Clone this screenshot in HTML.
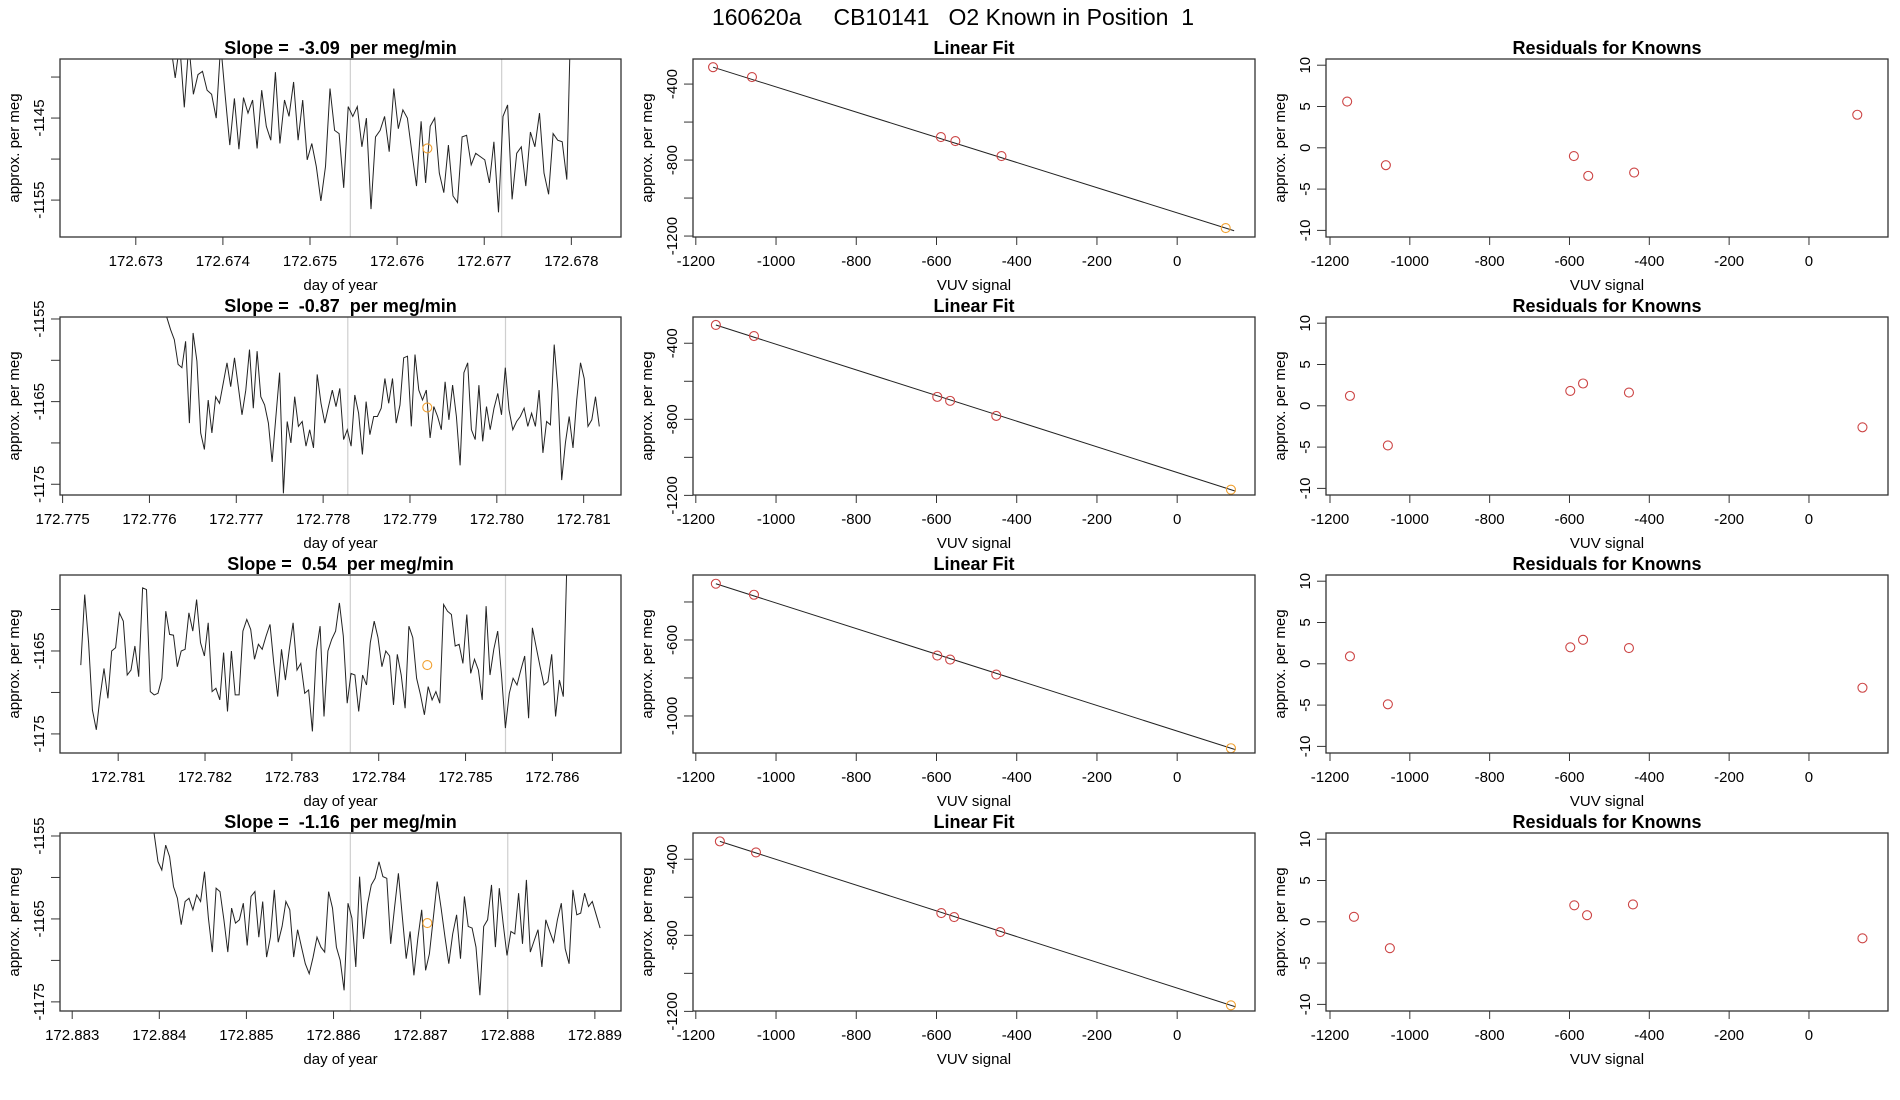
<!DOCTYPE html>
<html><head><meta charset="utf-8">
<style>
html,body{margin:0;padding:0;background:#fff;}
svg{display:block;font-family:"Liberation Sans",Arial,sans-serif;}
svg text{white-space:pre;}
</style></head>
<body>
<svg id="chart" width="1900" height="1100" viewBox="0 0 1900 1100" xmlns="http://www.w3.org/2000/svg">
<rect x="0" y="0" width="1900" height="1100" fill="#fff"/>
<text x="953" y="25" font-size="23" text-anchor="middle" xml:space="preserve">160620a     CB10141   O2 Known in Position  1</text>
</svg>
<script>
// ---------- data ----------
const slopes = ["-3.09", "-0.87", "0.54", "-1.16"];
const tsStart = [172.67340, 172.77620, 172.78057, 172.88394];
const tsEnd = [172.67800, 172.78118, 172.78617, 172.88906];
const tsXMin = [172.67213, 172.77497, 172.78033, 172.88286];
const tsXMax = [172.67857, 172.78143, 172.78679, 172.88930];
const tsYMin = [-1159.5, -1176.3, -1177.3, -1176.1];
const tsYMax = [-1137.8, -1154.76, -1155.84, -1154.64];
const tsXTicks = [
  ["172.673","172.674","172.675","172.676","172.677","172.678"],
  ["172.775","172.776","172.777","172.778","172.779","172.780","172.781"],
  ["172.781","172.782","172.783","172.784","172.785","172.786"],
  ["172.883","172.884","172.885","172.886","172.887","172.888","172.889"]
];
const tsYTicks = [[-1140,-1145,-1150,-1155],[-1155,-1160,-1165,-1170,-1175],[-1160,-1165,-1170,-1175],[-1155,-1160,-1165,-1170,-1175]];
const tsYLabels = [[-1145,-1155],[-1155,-1165,-1175],[-1165,-1175],[-1155,-1165,-1175]];
const vLines = [[172.675463,172.6772],[172.778284,172.78010],[172.783673,172.78546],[172.886193,172.888]];
const knownX = [172.676347, 172.779199, 172.784559, 172.887077];
const knownY = [-1148.7, -1165.7, -1166.7, -1165.5];
const ts1 = [-1136,-1140.1,-1136,-1143.7,-1136,-1142.1,-1139.7,-1139.3,-1141.6,-1142.1,-1145.0,-1136,-1142.4,-1148.3,-1142.6,-1148.8,-1142.5,-1144.4,-1142.8,-1148.7,-1141.6,-1146.0,-1147.7,-1139.4,-1148.1,-1142.8,-1144.8,-1140.6,-1147.7,-1142.8,-1150.1,-1148.1,-1150.9,-1155.1,-1150.9,-1141.4,-1146.5,-1146.9,-1153.5,-1143.6,-1144.8,-1143.6,-1148.5,-1145.0,-1156.1,-1147.3,-1146.5,-1144.8,-1149.1,-1141.4,-1146.3,-1144.0,-1145.0,-1149.3,-1153.3,-1145.4,-1152.9,-1146.0,-1145.0,-1151.7,-1154.1,-1148.3,-1154.5,-1155.3,-1147.3,-1147.1,-1150.7,-1149.3,-1149.7,-1150.1,-1152.9,-1147.9,-1156.5,-1144.8,-1143.4,-1154.9,-1149.3,-1148.5,-1153.3,-1146.7,-1148.5,-1144.4,-1151.7,-1154.3,-1146.9,-1147.7,-1147.9,-1152.5,-1130];
const ts2 = [-1154.8,-1156.3,-1157.5,-1160.5,-1160.9,-1157.7,-1167.6,-1156.7,-1160.1,-1168.8,-1170.8,-1164.8,-1168.8,-1164.4,-1165.2,-1162.8,-1160.3,-1163.2,-1159.7,-1163.2,-1166.6,-1163.6,-1158.7,-1165.8,-1158.9,-1164.4,-1165.4,-1167.6,-1172.3,-1166.8,-1161.5,-1176.1,-1167.4,-1170.0,-1164.4,-1168.0,-1167.4,-1170.4,-1168.4,-1170.6,-1161.7,-1165.2,-1167.6,-1165.6,-1163.6,-1165.6,-1163.4,-1169.6,-1168.4,-1170.4,-1164.2,-1166.4,-1171.4,-1165.0,-1169.0,-1166.8,-1166.8,-1165.8,-1162.2,-1165.2,-1162.2,-1167.6,-1165.4,-1159.7,-1159.5,-1168.0,-1159.3,-1163.6,-1164.8,-1163.6,-1169.4,-1165.6,-1166.8,-1168.4,-1162.6,-1167.2,-1163.0,-1166.8,-1172.7,-1161.5,-1160.3,-1168.4,-1169.6,-1163.0,-1169.8,-1165.6,-1168.4,-1165.8,-1164.0,-1166.6,-1160.9,-1166.0,-1168.4,-1167.4,-1166.8,-1165.8,-1168.0,-1166.4,-1168.0,-1163.6,-1171.2,-1167.4,-1167.8,-1158.1,-1163.6,-1174.5,-1170.0,-1166.8,-1170.6,-1164.8,-1160.3,-1162.2,-1168.0,-1167.2,-1164.4,-1168.0];
const ts3 = [-1166.7,-1158.2,-1164.0,-1172.1,-1174.5,-1170.5,-1167.1,-1170.7,-1165.0,-1164.6,-1160.4,-1161.4,-1167.9,-1167.3,-1164.4,-1168.1,-1157.4,-1157.6,-1169.9,-1170.3,-1170.1,-1168.3,-1160.2,-1163.0,-1163.1,-1166.9,-1165.0,-1164.8,-1160.4,-1162.6,-1158.8,-1164.0,-1165.6,-1161.6,-1169.9,-1169.5,-1170.9,-1165.2,-1172.3,-1165.0,-1170.3,-1170.3,-1162.6,-1161.2,-1162.4,-1166.0,-1164.2,-1164.8,-1163.2,-1161.8,-1166.5,-1170.5,-1164.8,-1168.5,-1164.8,-1161.6,-1167.3,-1166.5,-1170.1,-1169.7,-1174.7,-1165.0,-1162.0,-1172.9,-1165.0,-1163.6,-1162.6,-1159.2,-1163.2,-1171.3,-1167.7,-1167.9,-1172.3,-1167.9,-1169.1,-1164.0,-1161.4,-1163.4,-1166.9,-1165.0,-1165.6,-1171.5,-1165.4,-1167.9,-1171.9,-1162.0,-1163.4,-1168.3,-1170.3,-1172.7,-1169.3,-1170.9,-1169.9,-1171.3,-1159.4,-1160.2,-1160.6,-1164.4,-1164.2,-1166.5,-1160.6,-1167.7,-1166.0,-1167.3,-1170.9,-1159.6,-1167.9,-1164.8,-1162.6,-1167.9,-1174.3,-1170.1,-1168.3,-1169.1,-1167.3,-1165.6,-1173.1,-1162.2,-1164.6,-1166.9,-1169.1,-1168.7,-1165.4,-1172.9,-1168.5,-1170.5,-1153];
const ts4 = [-1154.7,-1158.1,-1159.1,-1156.1,-1157.5,-1161.1,-1162.5,-1165.7,-1162.9,-1162.5,-1163.9,-1162.1,-1162.9,-1159.3,-1164.9,-1169.0,-1161.3,-1161.7,-1165.1,-1169.0,-1163.7,-1165.5,-1165.1,-1163.1,-1168.2,-1162.3,-1161.7,-1167.2,-1162.9,-1169.6,-1167.2,-1161.5,-1167.8,-1165.9,-1162.9,-1163.9,-1169.6,-1166.3,-1168.4,-1170.4,-1171.6,-1169.6,-1167.2,-1168.4,-1169.0,-1161.7,-1163.7,-1168.4,-1170.0,-1173.6,-1163.1,-1164.9,-1170.8,-1159.9,-1167.4,-1163.3,-1160.9,-1160.1,-1158.1,-1159.9,-1160.1,-1168.0,-1163.7,-1159.5,-1164.7,-1169.8,-1166.5,-1171.8,-1167.4,-1163.9,-1171.2,-1169.2,-1164.9,-1160.5,-1163.7,-1167.2,-1170.4,-1166.8,-1164.5,-1169.8,-1162.3,-1165.9,-1166.1,-1168.4,-1174.2,-1165.9,-1165.1,-1160.9,-1168.4,-1161.3,-1165.5,-1169.4,-1166.5,-1166.8,-1161.9,-1168.0,-1160.3,-1169.0,-1167.6,-1166.3,-1170.8,-1165.1,-1166.5,-1167.8,-1165.1,-1163.1,-1168.6,-1170.4,-1161.5,-1164.5,-1164.3,-1161.9,-1163.5,-1162.9,-1164.5,-1166.1];
const tsSeries = [ts1, ts2, ts3, ts4];

// Linear fit panels
const fitXTickLabels = ["-1200","-1000","-800","-600","-400","-200","0"];
const fitYMin = [-1205, -1198, -1195, -1198];
const fitYMax = [-268, -262, -258, -262];
const fitYTicks = [[-400,-600,-800,-1000,-1200],[-400,-600,-800,-1000,-1200],[-400,-600,-800,-1000],[-400,-600,-800,-1000,-1200]];
const fitYLabels = [[-400,-800,-1200],[-400,-800,-1200],[-600,-1000],[-400,-800,-1200]];
const stdX1 = [-1157, -1060, -589, -553, -438];
const stdX2 = [-1150, -1055, -598, -566, -451];
const stdX3 = [-1150, -1055, -598, -566, -451];
const stdX4 = [-1140, -1050, -588, -556, -441];
const stdY1 = [-311, -363, -679, -700, -779];
const stdY2 = [-304, -362, -682, -703, -782];
const stdY3 = [-304, -362, -682, -703, -782];
const stdY4 = [-306, -364, -683, -704, -783];
const stdXs = [stdX1, stdX2, stdX3, stdX4];
const stdYs = [stdY1, stdY2, stdY3, stdY4];
const unkX = [121, 134, 134, 134];
const unkY = [-1158, -1170, -1170, -1168];
const fitLineEnd = [142, 146, 146, 146];

// Residuals
const res1 = [5.6, -2.1, -1.0, -3.4, -3.0];
const res2 = [1.2, -4.8, 1.8, 2.7, 1.6];
const res3 = [0.9, -4.9, 2.0, 2.9, 1.9];
const res4 = [0.6, -3.2, 2.0, 0.8, 2.1];
const resAll = [res1, res2, res3, res4];
const resUnk = [4.0, -2.6, -2.9, -2.0];
const resTicks = [-10, -5, 0, 5, 10];

// ---------- drawing ----------
const NS = "http://www.w3.org/2000/svg";
const svg = document.getElementById("chart");
function mk(tag, attrs, parent, txt) {
  const e = document.createElementNS(NS, tag);
  for (const k in attrs) e.setAttribute(k, attrs[k]);
  if (txt !== undefined) e.textContent = txt;
  (parent || svg).appendChild(e);
  return e;
}
const rowTop = [59, 317, 575, 833];
const H = 178;
const TS = {x0: 60, x1: 621};
const FIT = {x0: 693, x1: 1255};
const RES = {x0: 1326, x1: 1888};
const FIT_XMIN = -1207, FIT_XMAX = 194;
const RES_XMIN = -1210, RES_XMAX = 198;
const RES_YMIN = -10.8, RES_YMAX = 10.75;

function scale(d0, d1, p0, p1) { return v => p0 + (v - d0) / (d1 - d0) * (p1 - p0); }

function frame(g, box, top, title, ylab, xlab, nameBase) {
  const r = mk("rect", {x: box.x0, y: top, width: box.x1 - box.x0, height: H, fill: "none", stroke: "#333", "stroke-width": 1.3}, g);
  
  
  const t = mk("text", {x: (box.x0 + box.x1) / 2, y: top - 5, "font-size": 18, "font-weight": "bold", "text-anchor": "middle", style: "white-space:pre"}, g, title);
  
  
  const yl = mk("text", {x: 0, y: 0, "font-size": 15, "text-anchor": "middle", transform: `translate(${box.x0 - 41},${top + H / 2}) rotate(-90)`}, g, ylab);
  
  
  const xl = mk("text", {x: (box.x0 + box.x1) / 2, y: top + H + 53, "font-size": 15, "text-anchor": "middle"}, g, xlab);
  
  
}
function xAxis(g, top, vals, labels, sx, nameBase) {
  const y = top + H;
  const a = mk("line", {x1: sx(vals[0]), x2: sx(vals[vals.length - 1]), y1: y, y2: y, stroke: "#333", "stroke-width": 1}, g);
  
  
  vals.forEach((v, i) => {
    const x = sx(v);
    const tk = mk("line", {x1: x, x2: x, y1: y, y2: y + 8, stroke: "#333", "stroke-width": 1}, g);
    
    
    const tl = mk("text", {x: x, y: y + 29, "font-size": 15, "text-anchor": "middle"}, g, labels[i]);
    
    
  });
}
function yAxis(g, box, ticks, labels, sy, nameBase) {
  const x = box.x0;
  const ys = ticks.map(sy);
  const a = mk("line", {x1: x, x2: x, y1: Math.min(...ys), y2: Math.max(...ys), stroke: "#333", "stroke-width": 1}, g);
  
  
  ticks.forEach(v => {
    const y = sy(v);
    const tk = mk("line", {x1: x - 9, x2: x, y1: y, y2: y, stroke: "#333", "stroke-width": 1}, g);
    
    
  });
  labels.forEach(v => {
    const y = sy(v);
    const tl = mk("text", {x: 0, y: 0, "font-size": 15, "text-anchor": "middle", transform: `translate(${x - 16},${y}) rotate(-90)`}, g, String(v));
    
    
  });
}
function circle(g, cx, cy, color, name) {
  const c = mk("circle", {cx: cx, cy: cy, r: 4.5, fill: "none", stroke: color, "stroke-width": 1.1}, g);
  
  
}

for (let r = 0; r < 4; r++) {
  const top = rowTop[r];
  // ---- time series panel ----
  const g1 = mk("g", {});
  
  
  const sx = scale(tsXMin[r], tsXMax[r], TS.x0, TS.x1);
  const sy = scale(tsYMin[r], tsYMax[r], top + H, top);
  const clipId = "clip" + r;
  const cp = mk("clipPath", {id: clipId}, g1);
  mk("rect", {x: TS.x0, y: top, width: TS.x1 - TS.x0, height: H}, cp);
  vLines[r].forEach(v => {
    const l = mk("line", {x1: sx(v), x2: sx(v), y1: top, y2: top + H, stroke: "#cfcfcf", "stroke-width": 1.2}, g1);
    
    
  });
  const ser = tsSeries[r];
  const n = ser.length;
  const pts = ser.map((v, i) => {
    const t = tsStart[r] + (tsEnd[r] - tsStart[r]) * i / (n - 1);
    return sx(t).toFixed(1) + "," + sy(v).toFixed(1);
  }).join(" ");
  const pl = mk("polyline", {points: pts, fill: "none", stroke: "#222", "stroke-width": 1, "clip-path": `url(#${clipId})`}, g1);
  
  
  circle(g1, sx(knownX[r]), sy(knownY[r]), "#f0a030", 'known-mean-point');
  frame(g1, TS, top, `Slope =  ${slopes[r]}  per meg/min`, "approx. per meg", "day of year", 'timeseries');
  const xt = tsXTicks[r].map(Number);
  xAxis(g1, top, xt, tsXTicks[r], sx, 'timeseries');
  yAxis(g1, TS, tsYTicks[r], tsYLabels[r], sy, 'timeseries');

  // ---- linear fit panel ----
  const g2 = mk("g", {});
  
  
  const fx = scale(FIT_XMIN, FIT_XMAX, FIT.x0, FIT.x1);
  const fy = scale(fitYMin[r], fitYMax[r], top + H, top);
  const xs = stdXs[r], ys = stdYs[r];
  const slope = (unkY[r] - ys[0]) / (unkX[r] - xs[0]);
  const lx0 = xs[0], lx1 = fitLineEnd[r];
  const fl = mk("line", {x1: fx(lx0), y1: fy(ys[0]), x2: fx(lx1), y2: fy(ys[0] + slope * (lx1 - lx0)), stroke: "#222", "stroke-width": 1}, g2);
  
  
  xs.forEach((x, i) => circle(g2, fx(x), fy(ys[i]), "#cc4444", 'standard-point'));
  circle(g2, fx(unkX[r]), fy(unkY[r]), "#f0a030", 'known-point');
  frame(g2, FIT, top, "Linear Fit", "approx. per meg", "VUV signal", 'linear-fit');
  const fxt = fitXTickLabels.map(Number);
  xAxis(g2, top, fxt, fitXTickLabels, fx, 'linear-fit');
  yAxis(g2, FIT, fitYTicks[r], fitYLabels[r], fy, 'linear-fit');

  // ---- residuals panel ----
  const g3 = mk("g", {});
  
  
  const rx = scale(RES_XMIN, RES_XMAX, RES.x0, RES.x1);
  const ry = scale(RES_YMIN, RES_YMAX, top + H, top);
  resAll[r].forEach((v, i) => circle(g3, rx(xs[i]), ry(v), "#cc4444", 'residual-point'));
  circle(g3, rx(unkX[r]), ry(resUnk[r]), "#cc4444", 'residual-point');
  frame(g3, RES, top, "Residuals for Knowns", "approx. per meg", "VUV signal", 'residuals');
  xAxis(g3, top, fxt, fitXTickLabels, rx, 'residuals');
  yAxis(g3, RES, resTicks, resTicks, ry, 'residuals');
}
</script>
</body></html>
